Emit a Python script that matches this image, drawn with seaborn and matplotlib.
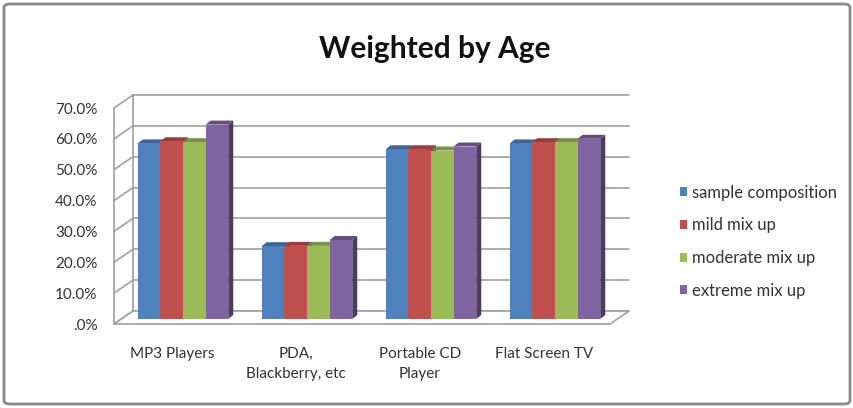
import numpy as np
import pandas as pd
import matplotlib
matplotlib.use("Agg")
import matplotlib.pyplot as plt
import seaborn as sns
from matplotlib.transforms import ScaledTranslation, IdentityTransform
from matplotlib.patches import Polygon, FancyBboxPatch
from matplotlib.colors import to_rgb

categories = ["MP3 Players", "PDA,\nBlackberry, etc", "Portable CD\nPlayer", "Flat Screen TV"]
series_names = ["sample composition", "mild mix up", "moderate mix up", "extreme mix up"]
sample_composition = [56.9, 23.6, 55.0, 56.9]
mild_mix_up = [57.6, 23.7, 55.0, 57.3]
moderate_mix_up = [57.3, 23.7, 54.6, 57.3]
extreme_mix_up = [63.0, 25.6, 55.9, 58.4]
ytick_values = [0, 10, 20, 30, 40, 50, 60, 70]
ytick_labels = [".0%", "10.0%", "20.0%", "30.0%", "40.0%", "50.0%", "60.0%", "70.0%"]
colors = ["#4F81BD", "#C0504D", "#9BBB59", "#8064A2"]

rows = []
for name, vals in zip(series_names, [sample_composition, mild_mix_up, moderate_mix_up, extreme_mix_up]):
    for c, v in zip(categories, vals):
        rows.append({"category": c, "series": name, "value": v})
df = pd.DataFrame(rows)

sns.set_theme(style="white")
plt.rcParams['font.family'] = ['Lato', 'DejaVu Sans']

DPI = 100
fig = plt.figure(figsize=(8.54, 4.08), dpi=DPI)
ax = fig.add_axes([121/854, 1 - 319/408, 496/854, 216/408])

sns.barplot(data=df, x="category", y="value", hue="series", order=categories,
            hue_order=series_names, palette=colors, width=0.73, saturation=1,
            ax=ax, legend=True, zorder=5, linewidth=0)
ax.set_xlim(-0.5, 3.5)
ax.set_ylim(0, 70)
ax.set_xlabel("")
ax.set_ylabel("")
for s in ax.spines.values():
    s.set_visible(False)

def px(dx, dy):
    return ScaledTranslation(dx / DPI, dy / DPI, fig.dpi_scale_trans)

grid_c = "#a0a0a0"
back = ax.transData + px(12, 8)
front = ax.transData + px(-7, -5)
for v in ytick_values:
    ax.plot([-0.5, 3.5], [v, v], color=grid_c, lw=1.2, transform=back, zorder=1, clip_on=False)
    p0 = front.transform((-0.5, v))
    p1 = back.transform((-0.5, v))
    ax.add_line(plt.Line2D([p0[0], p1[0]], [p0[1], p1[1]], color=grid_c, lw=1.2,
                           transform=IdentityTransform(), zorder=1, clip_on=False))
for tr in (front, back):
    ax.plot([-0.5, -0.5], [0, 70], color=grid_c, lw=1.2, transform=tr, zorder=1, clip_on=False)
fig.canvas.draw()
f0 = front.transform((-0.5, 0)); f1 = front.transform((3.5, 0))
b0 = back.transform((-0.5, 0)); b1 = back.transform((3.5, 0))
ax.add_patch(Polygon([f0, f1, b1, b0], closed=True, facecolor="white", edgecolor=grid_c,
                     lw=1.2, transform=IdentityTransform(), zorder=2, clip_on=False))

ax.set_yticks(ytick_values)
ax.set_yticklabels(ytick_labels)
ax.tick_params(axis="y", length=0, pad=17, labelsize=11, labelcolor="#333333")
ax.tick_params(axis="x", length=0, pad=20, labelsize=11, labelcolor="#333333")
for lab in ax.get_yticklabels():
    lab.set_transform(lab.get_transform() + px(0, -5))
for lab in ax.get_xticklabels():
    lab.set_transform(lab.get_transform() + px(-11, 0))
    lab.set_linespacing(1.55)

fig.canvas.draw()
bars = [p for p in ax.patches if isinstance(p, matplotlib.patches.Rectangle) and p.get_height() > 0]
bars = sorted(bars, key=lambda p: p.get_x())
dx, dy = 5, 4
for i, p in enumerate(bars):
    bb = p.get_window_extent()
    col = np.array(to_rgb(p.get_facecolor()))
    side = col * 0.6
    top = col * 0.78
    z = 5 + i * 0.01
    p.set_zorder(z + 0.005)
    ax.add_patch(Polygon([(bb.x1, bb.y0), (bb.x1 + dx, bb.y0 + dy), (bb.x1 + dx, bb.y1 + dy), (bb.x1, bb.y1)],
                         closed=True, facecolor=side, edgecolor="none", transform=IdentityTransform(),
                         zorder=z, clip_on=False))
    ax.add_patch(Polygon([(bb.x0, bb.y1), (bb.x0 + dx, bb.y1 + dy), (bb.x1 + dx, bb.y1 + dy), (bb.x1, bb.y1)],
                         closed=True, facecolor=top, edgecolor="none", transform=IdentityTransform(),
                         zorder=z, clip_on=False))

handles, labels = ax.get_legend_handles_labels()
ax.legend(handles, labels, loc="upper left", bbox_to_anchor=(673/854, 1 - 178/408),
          bbox_transform=fig.transFigure, frameon=False, fontsize=12, handlelength=0.45,
          handleheight=0.45, handletextpad=0.3, labelspacing=1.0, borderaxespad=0)
for t in ax.get_legend().get_texts():
    t.set_color("#333333")

fig.text(435/854, 1 - 49/408, "Weighted by Age", ha="center", va="center",
         fontsize=21.5, fontweight="bold", color="#111111")

fig.patches.append(FancyBboxPatch((4/854, 4/408), 846/854, 400/408,
                                  boxstyle="round,pad=0,rounding_size=0.008",
                                  transform=fig.transFigure, facecolor="none",
                                  edgecolor="#8a8a8a", lw=2))

fig.savefig("out.png", dpi=DPI, facecolor="white")
